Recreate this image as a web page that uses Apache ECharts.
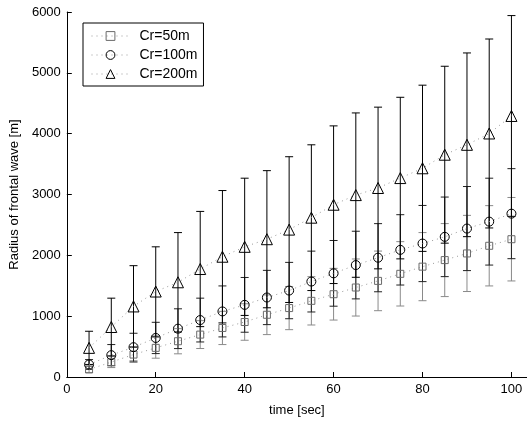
<!DOCTYPE html>
<html>
<head>
<meta charset="utf-8">
<script src="https://cdn.jsdelivr.net/npm/echarts@6/dist/echarts.min.js"></script>
<style>
html,body{margin:0;padding:0;background:#fff;}
#chart{width:527px;height:422px;}
</style>
</head>
<body>
<div id="chart"></div>
<script>
const times = [5,10,15,20,25,30,35,40,45,50,55,60,65,70,75,80,85,90,95,100];
const xTicks = [0,20,40,60,80,100];
const seriesNames = ['Cr=50m','Cr=100m','Cr=200m'];
const cr50 = [124,245,369,479,588,697,806,904,1023,1133,1252,1361,1471,1580,1696,1814,1922,2031,2157,2265];
const cr50Err = [50,90,130,170,207,229,273,300,326,355,397,425,469,490,529,560,600,626,660,686];
const cr100 = [206,359,490,642,794,936,1078,1186,1307,1421,1569,1704,1840,1961,2090,2194,2304,2440,2554,2685];
const cr100Err = [80,174,229,257,327,360,419,450,446,463,500,540,556,560,578,626,654,691,714,740];
const cr200 = [479,822,1160,1405,1557,1775,1977,2140,2265,2423,2619,2832,2990,3107,3270,3431,3654,3817,4003,4291];
const cr200Err = [273,474,670,735,817,947,1088,1128,1127,1198,1198,1296,1351,1329,1328,1366,1454,1510,1553,1650];

const FONT = 'Liberation Sans, Arial, Helvetica, sans-serif';

function errData(vals, errs) {
  return times.map((t, i) => [t, vals[i] - errs[i], vals[i] + errs[i]]);
}
function errSeries(vals, errs, color) {
  return {
    type: 'custom',
    z: 1,
    silent: true,
    data: errData(vals, errs),
    encode: {x: 0, y: [1, 2]},
    renderItem: function (params, api) {
      const x = api.value(0);
      const top = api.coord([x, api.value(2)]);
      const bot = api.coord([x, api.value(1)]);
      const w = 4;
      const st = {stroke: color, lineWidth: 1};
      return {
        type: 'group',
        children: [
          {type: 'line', shape: {x1: top[0], y1: top[1], x2: bot[0], y2: bot[1]}, style: st},
          {type: 'line', shape: {x1: top[0] - w, y1: top[1], x2: top[0] + w, y2: top[1]}, style: st},
          {type: 'line', shape: {x1: bot[0] - w, y1: bot[1], x2: bot[0] + w, y2: bot[1]}, style: st}
        ]
      };
    }
  };
}
function lineSeries(name, vals, symbol, size, color) {
  return {
    name: name,
    type: 'line',
    z: 3,
    data: times.map((t, i) => [t, vals[i]]),
    symbol: symbol,
    symbolSize: size,
    showAllSymbol: true,
    lineStyle: {color: '#9a9a9a', width: 1, type: [1, 4]},
    itemStyle: {color: 'rgba(255,255,255,0)', borderColor: color, borderWidth: 1},
    emphasis: {disabled: true},
    animation: false
  };
}

const chart = echarts.init(document.getElementById('chart'), null, {renderer: 'canvas'});
chart.setOption({
  animation: false,
  backgroundColor: '#fff',
  textStyle: {fontFamily: FONT},
  grid: {left: 64, right: 0, top: 12, bottom: 43, containLabel: false},
  legend: {
    data: seriesNames,
    orient: 'vertical',
    left: 83,
    top: 23,
    padding: [6, 6, 5, 8],
    itemWidth: 38,
    itemHeight: 11,
    itemGap: 5,
    borderColor: '#000',
    borderWidth: 1,
    backgroundColor: '#fff',
    itemStyle: {borderWidth: 1},
    lineStyle: {width: 1},
    textStyle: {fontFamily: FONT, fontSize: 14, color: '#000', padding: [0, 0, 0, 5]},
    selectedMode: false
  },
  xAxis: {
    type: 'value',
    min: 0,
    max: 103.5,
    interval: 20,
    name: 'time [sec]',
    nameLocation: 'middle',
    nameGap: 27,
    nameTextStyle: {fontFamily: FONT, fontSize: 13, color: '#000'},
    splitLine: {show: false},
    axisLine: {lineStyle: {color: '#000', width: 1}},
    axisTick: {inside: true, length: 5, lineStyle: {color: '#000'}, customValues: xTicks},
    axisLabel: {fontFamily: FONT, fontSize: 13, color: '#000', margin: 6, customValues: xTicks}
  },
  yAxis: {
    type: 'value',
    min: 0,
    max: 6000,
    interval: 1000,
    name: 'Radius of frontal wave [m]',
    nameLocation: 'middle',
    nameGap: 35,
    nameTextStyle: {fontFamily: FONT, fontSize: 13, color: '#000'},
    splitLine: {show: false},
    axisLine: {show: true, lineStyle: {color: '#000', width: 1}},
    axisTick: {show: true, inside: true, length: 5, lineStyle: {color: '#000'}},
    axisLabel: {fontFamily: FONT, fontSize: 13, color: '#000', margin: 6, formatter: function (v) { return String(v); }}
  },
  series: [
    errSeries(cr50, cr50Err, '#8a8a8a'),
    errSeries(cr100, cr100Err, '#222'),
    errSeries(cr200, cr200Err, '#000'),
    lineSeries(seriesNames[0], cr50, 'rect', 7, '#6a6a6a'),
    lineSeries(seriesNames[1], cr100, 'circle', 9, '#000'),
    lineSeries(seriesNames[2], cr200, 'triangle', 11, '#000')
  ]
});
</script>
</body>
</html>
